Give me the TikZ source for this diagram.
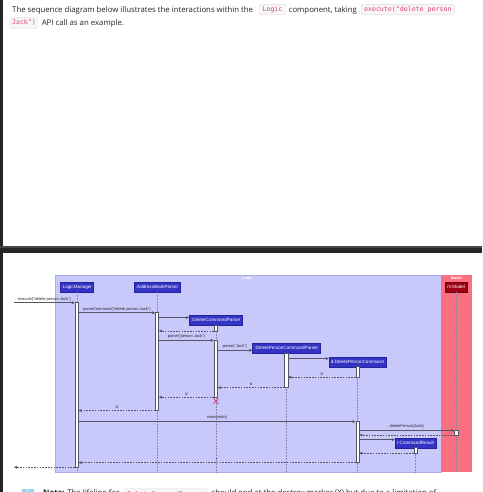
\documentclass[tikz,border=0pt]{standalone}
\usepackage{fontspec}
\setmainfont{Open Sans}
\newfontfamily\dgfont{Liberation Sans}
\newfontfamily\codefont{DejaVu Sans Mono}
\usetikzlibrary{arrows.meta}
\definecolor{logicTone}{HTML}{C8C8FA}
\definecolor{logicEdge}{HTML}{ABABE6}
\definecolor{logicC}{HTML}{3333C4}
\definecolor{logicB}{HTML}{23239E}
\definecolor{modelTone}{HTML}{F97181}
\definecolor{modelC}{HTML}{9D0012}
\definecolor{arrowC}{HTML}{555566}
\definecolor{lifeC}{HTML}{8888AA}
\definecolor{codepink}{HTML}{E0407A}
\definecolor{codebg}{HTML}{F7F7F9}
\definecolor{codeedge}{HTML}{DCDCE2}
\definecolor{darkframe}{HTML}{262626}
\definecolor{bodytext}{HTML}{202428}
\definecolor{destroyC}{HTML}{D0306A}
\definecolor{infoblue}{HTML}{9AD0F0}
\tikzset{
  x=1pt, y=-1pt,
  part/.style={draw=logicB, fill=logicC, text=white, font=\dgfont\fontsize{4.6}{5}\selectfont,
    inner sep=0pt, minimum height=9.5pt, line width=0.4pt},
  mpart/.style={part, draw=modelC!70!black, fill=modelC},
  actbar/.style={draw=arrowC, fill=white, line width=0.45pt, inner sep=0pt, minimum width=3.3pt},
  life/.style={draw=lifeC, dash pattern=on 1.6pt off 1.4pt, line width=0.35pt},
  msg/.style={draw=arrowC, line width=0.45pt, -{Triangle[length=3pt,width=2.6pt]}},
  ret/.style={msg, dash pattern=on 1.6pt off 1.2pt},
  lbl/.style={font=\dgfont\fontsize{4}{4.5}\selectfont, text=black!85, inner sep=0pt, above=1.6pt},
  body/.style={font=\fontsize{7.8}{9}\selectfont, text=bodytext, inner sep=0pt, anchor=base west},
  code/.style={draw=codeedge, fill=codebg, rounded corners=1.5pt, line width=0.4pt, text=codepink,
    font=\codefont\fontsize{6.6}{7}\selectfont, inner sep=0pt, minimum height=10.5pt},
  boxtitle/.style={font=\dgfont\bfseries\fontsize{3.8}{4}\selectfont, text=white, inner sep=0pt}
}
\begin{document}
\begin{tikzpicture}
\useasboundingbox (0,0) rectangle (482,492);
\clip (0,0) rectangle (482,492);
% page background and frame
\fill[white] (0,0) rectangle (482,492);
\fill[darkframe] (0,0) rectangle (2.6,492);
\fill[black!72] (0,246) rectangle (482,247.5);
\fill[darkframe] (0,247.5) rectangle (482,252.6);

% intro text
\node[body] (t1) at (12,12.3) {The sequence diagram below illustrates the interactions within the};
\node[code, minimum width=27pt] (c1) at (272.5,9.6) {Logic};
\node[body] (t2) at (288.6,12.3) {component, taking};
\node[code, minimum width=93pt] (c2) at (407.8,9.6) {execute("delete person};
\node[code, minimum width=28pt] (c3) at (24,22.9) {Jack")};
\node[body] (t3) at (41.6,25.6) {API call as an example.};

% boxes
\fill[logicTone] (55,275) rectangle (441,472);
\draw[logicEdge, line width=0.5pt] (55,275) rectangle (441,472);
\fill[modelTone] (441,275) rectangle (471.8,472);
\node[boxtitle] (logictitle) at (247.5,278.2) {Logic};
\node[boxtitle] (modeltitle) at (456.4,278.2) {Model};

% participants
\node[part, minimum width=33.3pt] (lm) at (76.7,287.3) {:LogicManager};
\node[part, minimum width=46pt] (abp) at (157,287.3) {:AddressBookParser};
\node[part, minimum width=53pt] (dcp) at (215.8,320) {:DeleteCommandParser};
\node[part, minimum width=67.3pt] (dpcp) at (286.3,348.3) {:DeletePersonCommandParser};
\node[part, minimum width=56.7pt] (dpc) at (357.4,362) {d:DeletePersonCommand};
\node[part, minimum width=40.7pt] (cr) at (415.4,443) {r:CommandResult};
\node[mpart, minimum width=22.3pt] (m) at (456.2,287.3) {m:Model};

% lifelines
\foreach \p in {lm,abp,dcp,dpcp,dpc,cr,m}{
  \draw[life] (\p.south) -- (\p.south |- 0,472);
}

% activation bars
\node[actbar, minimum height=164.6pt] (lm1) at (lm.south |- 0,385) {};
\node[actbar, minimum height=98pt] (abp1) at (abp.south |- 0,361.7) {};
\node[actbar, minimum height=6pt] (dcp1) at (dcp.south |- 0,328) {};
\node[actbar, minimum height=57pt] (dcp2) at (dcp.south |- 0,368.8) {};
\node[actbar, minimum height=34.4pt] (dpcp1) at (dpcp.south |- 0,370.5) {};
\node[actbar, minimum height=10.6pt] (dpc1) at (dpc.south |- 0,372) {};
\node[actbar, minimum height=41pt] (dpc2) at (dpc.south |- 0,442.2) {};
\node[actbar, minimum height=4.7pt] (m1) at (m.south |- 0,432.85) {};
\node[actbar, minimum height=5.6pt] (cr1) at (cr.south |- 0,450.5) {};

% messages
\coordinate (caller) at (14,302.7);
\coordinate (callerback) at (14,467.3);
\draw[msg] (caller) -- (lm1.west |- caller) node[midway, lbl] {execute("delete person Jack")};
\draw[msg] (lm1.east |- 0,312.7) -- (abp1.west |- 0,312.7) node[midway, lbl] {parseCommand("delete person Jack")};
\draw[msg] (abp1.east |- 0,317.6) -- (dcp.west |- 0,317.6);
\draw[ret] (dcp1.west |- 0,330.8) -- (abp1.east |- 0,330.8);
\draw[msg] (abp1.east |- 0,340.3) -- (dcp2.west |- 0,340.3) node[midway, lbl] {parse("person Jack")};
\draw[msg] (dcp2.east |- 0,350.3) -- (dpcp.west |- 0,350.3) node[midway, lbl] {parse("Jack")};
\draw[msg] (dpcp1.east |- 0,358.6) -- (dpc.west |- 0,358.6);
\draw[ret] (dpc1.west |- 0,377.2) -- (dpcp1.east |- 0,377.2) node[midway, lbl] {d};
\draw[ret] (dpcp1.west |- 0,387.6) -- (dcp2.east |- 0,387.6) node[midway, lbl] {d};
\draw[ret] (dcp2.west |- 0,397.2) -- (abp1.east |- 0,397.2) node[midway, lbl] {d};
\draw[ret] (abp1.west |- 0,410.6) -- (lm1.east |- 0,410.6) node[midway, lbl] {d};
\draw[msg] (lm1.east |- 0,421.6) -- (dpc2.west |- 0,421.6) node[midway, lbl] {execute(m)};
\draw[msg] (dpc2.east |- 0,430.4) -- (m1.west |- 0,430.4) node[midway, lbl] {deletePerson(Jack)};
\draw[ret] (m1.west |- 0,435) -- (dpc2.east |- 0,435);
\draw[msg] (dpc2.east |- 0,439.6) -- (cr.west |- 0,439.6);
\draw[ret] (cr1.west |- 0,453.2) -- (dpc2.east |- 0,453.2);
\draw[ret] (dpc2.west |- 0,462.6) -- (lm1.east |- 0,462.6) node[midway, lbl] {r};
\draw[ret] (lm1.west |- callerback) -- (callerback);

% destroy marker
\draw[destroyC, line width=0.7pt] (213.4,398.6) -- (218.4,403.6) (213.4,403.6) -- (218.4,398.6);

% cut-off note line at the bottom
\fill[infoblue, rounded corners=1pt] (21.5,489) rectangle (34,500);
\fill[white] (27.2,490.2) circle (0.9);
\node[body] (n1) at (43,495.4) {\textbf{Note:} The lifeline for};
\node[code, minimum width=84pt, minimum height=11pt, anchor=north] (c4) at (165,488.7) {DeleteCommandParser};
\node[body] (n2) at (211.5,495.4) {should end at the destroy marker (X) but due to a limitation of};
\end{tikzpicture}
\end{document}
